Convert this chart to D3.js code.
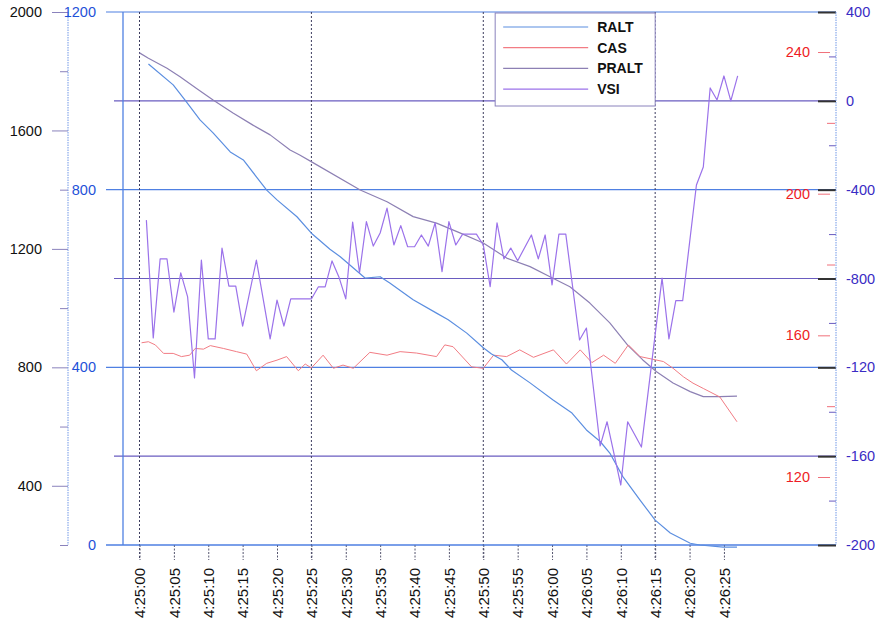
<!DOCTYPE html>
<html>
<head>
<meta charset="utf-8">
<script src="https://cdn.jsdelivr.net/npm/d3@7"></script>
<style>
  body { margin: 0; background: #fff; }
  text { font-family: Arial, "Liberation Sans", sans-serif; }
</style>
</head>
<body>
<div id="chart"></div>
<script>
// Datos (segundos desde 4:25:00)
const startTime = "4:25:00";
const xTickLabels = ["4:25:00", "4:25:05", "4:25:10", "4:25:15", "4:25:20", "4:25:25", "4:25:30", "4:25:35", "4:25:40",
    "4:25:45", "4:25:50", "4:25:55", "4:26:00", "4:26:05", "4:26:10", "4:26:15", "4:26:20", "4:26:25"];
const gridTimes = ["4:25:00", "4:25:25", "4:25:50", "4:26:15"];

const ralt_t = [1.3, 4.9, 6.6, 8.8, 10.7, 13.2, 15.1, 17.0, 18.5, 20.0, 22.9, 25.0, 27.7, 29.2, 32.8, 35.0, 36.4, 39.8, 43.2, 44.9,
    47.6, 50.0, 51.2, 52.7, 54.1, 56.8, 60.1, 62.9, 65.0, 67.0, 68.4, 70.3, 72.8, 75.0, 77.2, 80.1, 81.5, 84.9, 86.9];
const ralt_v = [1083, 1036, 1002, 957, 928, 885, 867, 829, 799, 777, 739, 702, 666, 649, 601, 604, 590, 552, 522, 507,
    477, 444, 430, 417, 394, 365, 327, 297, 259, 233, 207, 154, 101, 56, 27, 4, 0, -5, -5];

const cas_t = [0.3, 1.3, 2.3, 3.5, 4.9, 6.1, 7.3, 8.1, 9.3, 10.3, 12.2, 14.1, 15.6, 17.0, 18.5, 20.0, 21.4, 23.1, 24.1, 25.0,
    26.7, 28.2, 29.6, 31.1, 33.5, 36.0, 37.9, 40.3, 43.2, 44.4, 45.6, 48.3, 50.0, 51.5, 53.4, 55.3, 57.3, 60.2, 62.1, 64.1,
    65.8, 67.5, 69.2, 71.1, 72.8, 75.0, 76.2, 77.6, 79.1, 80.5, 82.0, 84.4, 86.9];
const cas_v = [157.9, 158.2, 157.3, 154.9, 154.9, 154.0, 154.4, 156.3, 156.1, 157.1, 156.3, 155.4, 154.7, 150.0, 152.1, 153.0, 154.0, 150.0, 151.9, 150.8,
    154.4, 150.7, 151.6, 150.7, 155.2, 154.4, 155.4, 155.0, 154.0, 157.3, 156.8, 151.1, 150.7, 154.4, 154.0, 155.9, 153.8, 155.9, 151.9, 155.9,
    152.3, 154.4, 152.1, 157.3, 154.0, 153.1, 152.6, 150.7, 148.3, 146.5, 145.0, 142.6, 135.6];

const pralt_t = [0, 1.3, 4.0, 5.9, 8.3, 10.7, 13.6, 16.5, 19.0, 21.9, 23.3, 25.1, 32.1, 36.0, 39.8, 43.2, 46.6, 50.0, 53.4, 56.8,
    59.7, 62.6, 65.5, 68.4, 71.0, 73.2, 75.2, 77.6, 80.1, 82.0, 84.4, 86.9];
const pralt_v = [1862, 1844, 1810, 1781, 1742, 1703, 1659, 1618, 1585, 1534, 1517, 1493, 1399, 1359, 1309, 1287, 1254, 1220, 1169, 1140,
    1106, 1072, 1017, 950, 875, 825, 785, 747, 718, 701, 701, 703];

const vsi_t = [1, 2, 3, 4, 5, 6, 7, 8, 9, 10, 11, 12, 13, 14, 15, 17, 19, 20, 21, 22, 25, 26, 27, 28, 29, 30, 31, 32, 33, 34, 35, 36, 37,
    38, 39, 40, 41, 42, 43, 44, 45, 46, 47, 49, 50, 51, 52, 53, 54, 55, 57, 58, 59, 60, 61, 62, 64, 65, 67, 68, 70, 71, 73,
    76, 77, 78, 79, 81, 82, 83, 84, 85, 86, 87];
const vsi_v = [-537, -1068, -712, -712, -951, -775, -883, -1248, -717, -1072, -1072, -663, -834, -834, -1014, -717, -1072, -897, -1014, -892,
    -892, -838, -838, -721, -793, -892, -546, -774, -544, -654, -595, -483, -649, -562, -657, -657, -604, -654, -549, -769, -544, -649, -600,
    -600, -649, -837, -549, -712, -663, -720, -604, -712, -604, -829, -600, -600, -1077, -1023, -1554, -1445, -1730, -1445, -1559,
    -798, -1072, -900, -900, -379, -298, 58, 4, 112, 0, 112];

// Ejes: valores de ticks
const outerTicks = [200, 400, 600, 800, 1000, 1200, 1400, 1600, 1800, 2000];
const blueTicks = [0, 400, 800, 1200];
const redTicks = [120, 140, 160, 180, 200, 220, 240];
const vsiTicks = [-2000, -1800, -1600, -1400, -1200, -1000, -800, -600, -400, -200, 0, 200, 400];
const vsiGrid = [0, -800, -1600];

const series = [
    {label: "RALT", color: "#5b8ee0"},
    {label: "CAS", color: "#f27c84"},
    {label: "PRALT", color: "#8d80b4"},
    {label: "VSI", color: "#9b72ea"}
];

// Margen y dimensiones
const W = 875, H = 623;
const margin = {top: 12, right: 39, bottom: 78, left: 123};
const width = W - margin.left - margin.right;
const height = H - margin.top - margin.bottom;

const svg = d3.select("#chart").append("svg")
    .attr("width", W)
    .attr("height", H);
svg.append("rect").attr("width", W).attr("height", H).attr("fill", "white");

const g = svg.append("g")
    .attr("transform", "translate(" + margin.left + "," + margin.top + ")");

// Escalas
const parseTime = d3.timeParse("%H:%M:%S");
const t0 = parseTime(startTime);
const sec = s => new Date(t0.getTime() + s * 1000);

const x = d3.scaleTime().domain([sec(-2.4), sec(101.3)]).range([0, width]);
const yOuter = d3.scaleLinear().domain([200, 2000]).range([height, 0]);
const yBlue = d3.scaleLinear().domain([0, 1200]).range([height, 0]);
const yRed = d3.scaleLinear().domain([100.8, 251.3]).range([height, 0]);
const yVsi = d3.scaleLinear().domain([-2000, 400]).range([height, 0]);

// Rejilla horizontal azul
g.selectAll(".grid-blue").data(blueTicks).enter().append("line")
    .attr("class", "grid-blue")
    .attr("x1", -17).attr("x2", width)
    .attr("y1", d => yBlue(d)).attr("y2", d => yBlue(d))
    .attr("stroke", "#4f80e2").attr("stroke-width", 1.2);

// Rejilla horizontal morada
g.selectAll(".grid-vsi").data(vsiGrid).enter().append("line")
    .attr("class", "grid-vsi")
    .attr("x1", -9).attr("x2", width)
    .attr("y1", d => yVsi(d)).attr("y2", d => yVsi(d))
    .attr("stroke", "#6a5cc0").attr("stroke-width", 1.2);

// Línea vertical izquierda
g.append("line")
    .attr("x1", 0).attr("x2", 0).attr("y1", 0).attr("y2", height)
    .attr("stroke", "#4f80e2").attr("stroke-width", 1.3);

// Rejilla vertical discontinua
g.selectAll(".grid-x").data(gridTimes.map(parseTime)).enter().append("line")
    .attr("class", "grid-x")
    .attr("x1", d => x(d)).attr("x2", d => x(d))
    .attr("y1", 0).attr("y2", height + 15)
    .attr("stroke", "#3c3c5e").attr("stroke-width", 1)
    .attr("stroke-dasharray", "2,2");

// Eje X
const xAxis = d3.axisBottom(x)
    .tickValues(xTickLabels.map(parseTime))
    .tickFormat(d3.timeFormat("%-H:%M:%S"))
    .tickSize(15);
const xAxisG = g.append("g")
    .attr("transform", "translate(0," + height + ")")
    .call(xAxis);
xAxisG.select(".domain").remove();
xAxisG.selectAll(".tick line")
    .attr("stroke", "#55556e").attr("stroke-dasharray", "2,1.5");
xAxisG.selectAll(".tick text")
    .attr("transform", "rotate(-90)")
    .attr("x", -23).attr("y", 0).attr("dy", "0.35em")
    .style("text-anchor", "end")
    .style("font-size", "15px")
    .attr("fill", "#111");
// Línea base del eje
g.append("line")
    .attr("x1", -17).attr("x2", width).attr("y1", height).attr("y2", height)
    .attr("stroke", "#4f80e2").attr("stroke-width", 1.2);

// Eje exterior izquierdo (negro)
const outerG = g.append("g")
    .attr("transform", "translate(-55,0)")
    .call(d3.axisLeft(yOuter).tickValues(outerTicks).tickSize(16).tickPadding(10)
        .tickFormat(d => d % 400 === 0 ? d : ""));
outerG.select(".domain").remove();
outerG.append("line")
    .attr("x1", 0).attr("x2", 0).attr("y1", 0).attr("y2", height)
    .attr("stroke", "#6f96e6").attr("stroke-dasharray", "1.5,1");
outerG.selectAll(".tick line")
    .attr("x2", d => d % 400 === 0 ? -16 : -8)
    .attr("stroke", "#8a82bc");
outerG.selectAll(".tick text")
    .style("font-size", "14.5px").attr("fill", "#111");

// Eje azul (RALT)
const blueG = g.append("g")
    .attr("transform", "translate(-17,0)")
    .call(d3.axisLeft(yBlue).tickValues(blueTicks).tickSize(0).tickPadding(10)
        .tickFormat(d3.format("d")));
blueG.select(".domain").remove();
blueG.selectAll(".tick text")
    .style("font-size", "14.5px").attr("fill", "#1f52d8");

// Eje derecho morado (VSI)
const vsiG = g.append("g")
    .attr("transform", "translate(" + width + ",0)")
    .call(d3.axisRight(yVsi).tickValues(vsiTicks).tickSize(0).tickPadding(10)
        .tickFormat(d => d % 400 === 0 ? d : ""));
vsiG.select(".domain").remove();
vsiG.append("line")
    .attr("x1", 0).attr("x2", 0).attr("y1", 0).attr("y2", height)
    .attr("stroke", "#6f96e6").attr("stroke-dasharray", "1.5,1");
vsiG.selectAll(".tick line")
    .attr("x1", d => d % 400 === 0 ? -18 : -7).attr("x2", 0)
    .attr("stroke", d => d % 400 === 0 ? "#333" : "#6a5cc0")
    .attr("stroke-width", d => d % 400 === 0 ? 2 : 1);
vsiG.selectAll(".tick text")
    .style("font-size", "14.5px").attr("fill", "#3a2cc4");

// Eje rojo (CAS)
const redG = g.append("g")
    .attr("transform", "translate(" + (width - 6) + ",0)")
    .call(d3.axisLeft(yRed).tickValues(redTicks).tickSize(0).tickPadding(20)
        .tickFormat(d => d % 40 === 0 ? d : ""));
redG.select(".domain").remove();
redG.selectAll(".tick line")
    .attr("x1", d => d % 40 === 0 ? -12 : -3).attr("x2", d => d % 40 === 0 ? 0 : 5)
    .attr("stroke", "#f0707a");
redG.selectAll(".tick text")
    .style("font-size", "14.5px").attr("fill", "#ee1c25");

// Líneas de datos
function dibujar_linea(ts, vs, yScale, color, width_) {
    const pts = ts.map((t, i) => [sec(t), vs[i]]);
    g.append("path")
        .datum(pts)
        .attr("fill", "none")
        .attr("stroke", color)
        .attr("stroke-width", width_)
        .attr("stroke-linejoin", "round")
        .attr("d", d3.line()
            .x(d => x(d[0]))
            .y(d => yScale(d[1])));
}
dibujar_linea(pralt_t, pralt_v, yOuter, series[2].color, 1.2);
dibujar_linea(cas_t, cas_v, yRed, series[1].color, 1);
dibujar_linea(ralt_t, ralt_v, yBlue, series[0].color, 1.2);
dibujar_linea(vsi_t, vsi_v, yVsi, series[3].color, 1.2);

// Leyenda
const legend = g.append("g")
    .attr("transform", "translate(" + (x(parseTime("4:26:15")) - 160) + ",1)");
legend.append("rect")
    .attr("width", 160).attr("height", 93)
    .attr("fill", "white")
    .attr("stroke", "#8a82bc").attr("stroke-width", 1);
legend.selectAll(".ley-linea").data(series).enter().append("line")
    .attr("class", "ley-linea")
    .attr("x1", 8).attr("x2", 93)
    .attr("y1", (d, i) => 14 + i * 20.7).attr("y2", (d, i) => 14 + i * 20.7)
    .attr("stroke", d => d.color).attr("stroke-width", 1.2);
legend.selectAll(".ley-texto").data(series).enter().append("text")
    .attr("class", "ley-texto")
    .attr("x", 102)
    .attr("y", (d, i) => 14 + i * 20.7)
    .attr("dy", "0.36em")
    .style("font-size", "14px")
    .style("font-weight", "bold")
    .attr("fill", "#111")
    .text(d => d.label);
</script>
</body>
</html>
